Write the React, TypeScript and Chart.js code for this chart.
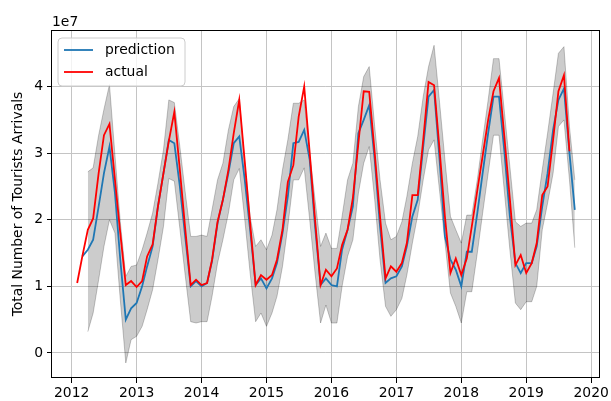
import { useEffect, useRef } from "react";
import { Chart, registerables } from "chart.js";

Chart.register(...registerables);

// Monthly series, first actual value = Feb 2012. Values are in units of 1e7.
const START_YEAR = 2012;
const START_MONTH = 2;
const PRED_OFFSET = 1; // prediction starts Mar 2012
const BAND_OFFSET = 2; // confidence band starts Apr 2012
const OFFSET_LABEL = "1e7";
const Y_TITLE = "Total Number of Tourists Arrivals";

const actual = [
  1.05, 1.45, 1.85, 2.02, 2.7, 3.27, 3.44, 2.6, 1.8, 1.02, 1.08,
  0.99, 1.08, 1.45, 1.63, 2.2, 2.7, 3.18, 3.62, 2.75, 1.87, 1.02, 1.1,
  1.02, 1.05, 1.4, 1.97, 2.3, 2.75, 3.3, 3.8, 2.87, 1.95, 1.02, 1.17,
  1.1, 1.17, 1.4, 1.85, 2.57, 2.82, 3.55, 4.0, 3.0, 2.0, 1.02, 1.25,
  1.15, 1.27, 1.62, 1.85, 2.33, 3.15, 3.93, 3.92, 3.0, 2.05, 1.12, 1.3,
  1.22, 1.35, 1.65, 2.37, 2.37, 3.2, 4.07, 4.02, 3.05, 2.05, 1.2, 1.42,
  1.17, 1.42, 1.9, 2.44, 2.96, 3.5, 3.93, 4.13, 3.22, 2.31, 1.32, 1.47,
  1.2, 1.35, 1.65, 2.37, 2.5, 3.2, 3.93, 4.17, 3.03,
];

const prediction = [
  1.45, 1.55, 1.7, 2.2, 2.7, 3.1, 2.4, 1.4, 0.5, 0.67,
  0.75, 1.0, 1.3, 1.6, 2.2, 2.7, 3.2, 3.15, 2.5, 1.75, 1.0, 1.08,
  1.0, 1.05, 1.38, 1.95, 2.3, 2.7, 3.15, 3.25, 2.6, 1.85, 1.02, 1.12,
  0.97, 1.12, 1.35, 1.8, 2.35, 3.15, 3.17, 3.35, 2.9, 1.9, 1.02, 1.12,
  1.02, 1.0, 1.55, 1.85, 2.2, 3.3, 3.5, 3.72, 2.9, 1.9, 1.05, 1.12,
  1.15, 1.3, 1.6, 2.05, 2.3, 3.1, 3.85, 3.95, 2.9, 1.75, 1.4, 1.25,
  1.0, 1.52, 1.52, 2.1, 2.7, 3.3, 3.85, 3.85, 3.0, 2.05, 1.35, 1.2,
  1.35, 1.35, 1.6, 2.2, 2.7, 3.35, 3.8, 3.97, 3.0, 2.15,
];

const lower = [
  0.32, 0.6, 1.1, 1.6, 2.0, 1.8, 0.8, -0.15, 0.2,
  0.25, 0.4, 0.65, 0.95, 1.4, 1.9, 2.62, 2.58, 1.87, 1.17, 0.47, 0.45,
  0.47, 0.47, 0.85, 1.35, 1.7, 2.1, 2.6, 2.77, 2.0, 1.2, 0.47, 0.6,
  0.4, 0.6, 0.85, 1.3, 1.9, 2.6, 2.6, 2.78, 2.0, 1.2, 0.45, 0.72,
  0.45, 0.45, 1.0, 1.45, 1.7, 2.4, 2.85, 3.1, 2.3, 1.4, 0.7, 0.55,
  0.65, 0.82, 1.17, 1.65, 2.07, 2.6, 3.05, 3.2, 2.43, 1.67, 0.9, 0.7,
  0.45, 0.92, 0.92, 1.5, 2.1, 2.7, 3.27, 3.27, 2.4, 1.55, 0.75, 0.65,
  0.77, 0.77, 1.0, 1.85, 2.25, 2.7, 3.4, 3.5, 2.6, 1.58,
];

const upper = [
  2.72, 2.78, 3.27, 3.66, 4.03, 2.97, 1.97, 1.15, 1.3,
  1.32, 1.55, 1.8, 2.1, 2.55, 3.05, 3.8, 3.76, 3.1, 2.42, 1.75, 1.75,
  1.77, 1.75, 2.15, 2.6, 2.85, 3.35, 3.7, 3.82, 2.85, 2.05, 1.6, 1.7,
  1.55, 1.77, 2.15, 2.75, 3.2, 3.75, 3.75, 3.8, 3.0, 2.3, 1.6, 1.8,
  1.57, 1.57, 2.05, 2.6, 2.85, 3.7, 4.15, 4.3, 3.4, 2.6, 1.95, 1.7,
  1.75, 1.97, 2.35, 2.85, 3.25, 3.85, 4.3, 4.62, 3.76, 2.9, 2.05, 1.85,
  1.65, 2.07, 2.07, 2.6, 3.2, 3.8, 4.42, 4.42, 3.6, 2.8, 1.97, 1.9,
  1.95, 1.95, 2.15, 2.75, 3.3, 3.9, 4.5, 4.6, 3.4, 2.6,
];

const yearTicks = [2012, 2013, 2014, 2015, 2016, 2017, 2018, 2019, 2020];
const valueTicks = [0, 1, 2, 3, 4];

const X_MIN = 2011.697;
const X_MAX = 2020.13;
const Y_MIN = -0.376;
const Y_MAX = 4.85;

const FONT_FAMILY = "'DejaVu Sans', sans-serif";
const FONT_SIZE = 13.9;

function monthToX(k: number): number {
  const idx = START_MONTH - 1 + k;
  const y = START_YEAR + Math.floor(idx / 12);
  const m = idx % 12;
  const s = Date.UTC(y, 0, 1);
  const e = Date.UTC(y + 1, 0, 1);
  return y + (Date.UTC(y, m, 1) - s) / (e - s);
}

const toPoints = (arr: number[], offset: number) =>
  arr.map((v, k) => ({ x: monthToX(k + offset), y: v }));

const overlayPlugin = {
  id: "overlay",
  afterDraw(chart: any) {
    const { ctx, chartArea } = chart;
    const { left, top, right, bottom } = chartArea;
    ctx.save();
    // spines
    ctx.strokeStyle = "#000";
    ctx.lineWidth = 1;
    ctx.strokeRect(Math.round(left) - 0.5, Math.round(top) + 0.5, Math.round(right - left), Math.round(bottom - top) - 1);
    // offset text
    ctx.fillStyle = "#000";
    ctx.font = `${FONT_SIZE}px ${FONT_FAMILY}`;
    ctx.textAlign = "left";
    ctx.textBaseline = "alphabetic";
    ctx.fillText(OFFSET_LABEL, left, 26);
    // legend
    const lx = 58, ly = 38, lw = 127, lh = 48, r = 4;
    ctx.beginPath();
    ctx.moveTo(lx + r, ly);
    ctx.lineTo(lx + lw - r, ly);
    ctx.quadraticCurveTo(lx + lw, ly, lx + lw, ly + r);
    ctx.lineTo(lx + lw, ly + lh - r);
    ctx.quadraticCurveTo(lx + lw, ly + lh, lx + lw - r, ly + lh);
    ctx.lineTo(lx + r, ly + lh);
    ctx.quadraticCurveTo(lx, ly + lh, lx, ly + lh - r);
    ctx.lineTo(lx, ly + r);
    ctx.quadraticCurveTo(lx, ly, lx + r, ly);
    ctx.closePath();
    ctx.fillStyle = "rgba(255,255,255,0.8)";
    ctx.fill();
    ctx.strokeStyle = "#cccccc";
    ctx.lineWidth = 1;
    ctx.stroke();
    const entries = [chart.data.datasets[1], chart.data.datasets[0]];
    entries.forEach((ds: any, i: number) => {
      const yy = 50 + i * 22;
      ctx.strokeStyle = ds.borderColor;
      ctx.lineWidth = ds.borderWidth;
      ctx.beginPath();
      ctx.moveTo(64, yy);
      ctx.lineTo(93, yy);
      ctx.stroke();
      ctx.fillStyle = "#000";
      ctx.textBaseline = "middle";
      ctx.fillText(ds.label, 105, yy);
    });
    ctx.restore();
  },
};

export default function App() {
  const ref = useRef<HTMLCanvasElement>(null);
  useEffect(() => {
    const gridCommon = {
      color: "#c4c4c4",
      lineWidth: 1,
      tickColor: "#000",
      tickLength: 5,
      drawTicks: true,
    };
    const chart = new Chart(ref.current as HTMLCanvasElement, {
      type: "line",
      data: {
        datasets: [
          {
            label: "actual",
            data: toPoints(actual, 0),
            borderColor: "#ff0000",
            borderWidth: 1.8,
            pointRadius: 0,
            tension: 0,
            fill: false,
          },
          {
            label: "prediction",
            data: toPoints(prediction, PRED_OFFSET),
            borderColor: "#1f77b4",
            borderWidth: 1.8,
            pointRadius: 0,
            tension: 0,
            fill: false,
          },
          {
            label: "lower",
            data: toPoints(lower, BAND_OFFSET),
            borderColor: "rgba(0,0,0,0.22)",
            borderWidth: 1,
            pointRadius: 0,
            tension: 0,
            fill: false,
          },
          {
            label: "upper",
            data: toPoints(upper, BAND_OFFSET),
            borderColor: "rgba(0,0,0,0.22)",
            borderWidth: 1,
            pointRadius: 0,
            tension: 0,
            fill: "-1",
            backgroundColor: "rgba(0,0,0,0.2)",
          },
        ],
      } as any,
      options: {
        responsive: false,
        animation: false,
        devicePixelRatio: 1,
        layout: { padding: { top: 30, right: 10, left: 0, bottom: 0 } },
        plugins: { legend: { display: false }, tooltip: { enabled: false } },
        scales: {
          x: {
            type: "linear",
            min: X_MIN,
            max: X_MAX,
            afterBuildTicks: (s: any) => {
              s.ticks = yearTicks.map((v) => ({ value: v }));
            },
            afterFit: (s: any) => {
              s.height = 23;
            },
            ticks: {
              callback: (v: any) => String(v),
              font: { family: FONT_FAMILY, size: FONT_SIZE },
              color: "#000",
              padding: 2,
              maxRotation: 0,
              autoSkip: false,
            },
            grid: gridCommon,
            border: { display: false },
          },
          y: {
            type: "linear",
            min: Y_MIN,
            max: Y_MAX,
            afterBuildTicks: (s: any) => {
              s.ticks = valueTicks.map((v) => ({ value: v }));
            },
            afterFit: (s: any) => {
              s.width = 52;
            },
            ticks: {
              callback: (v: any) => String(v),
              font: { family: FONT_FAMILY, size: FONT_SIZE },
              color: "#000",
              padding: 4,
              autoSkip: false,
            },
            title: {
              display: true,
              text: Y_TITLE,
              font: { family: FONT_FAMILY, size: FONT_SIZE },
              color: "#000",
              padding: { top: 10, bottom: 0 },
            },
            grid: gridCommon,
            border: { display: false },
          },
        },
      } as any,
      plugins: [overlayPlugin],
    });
    return () => chart.destroy();
  }, []);
  return (
    <div style={{ position: "fixed", left: 0, top: 0, width: 611, height: 401, background: "#fff" }}>
      <canvas ref={ref} width={611} height={401} style={{ width: 611, height: 401, display: "block" }} />
    </div>
  );
}
